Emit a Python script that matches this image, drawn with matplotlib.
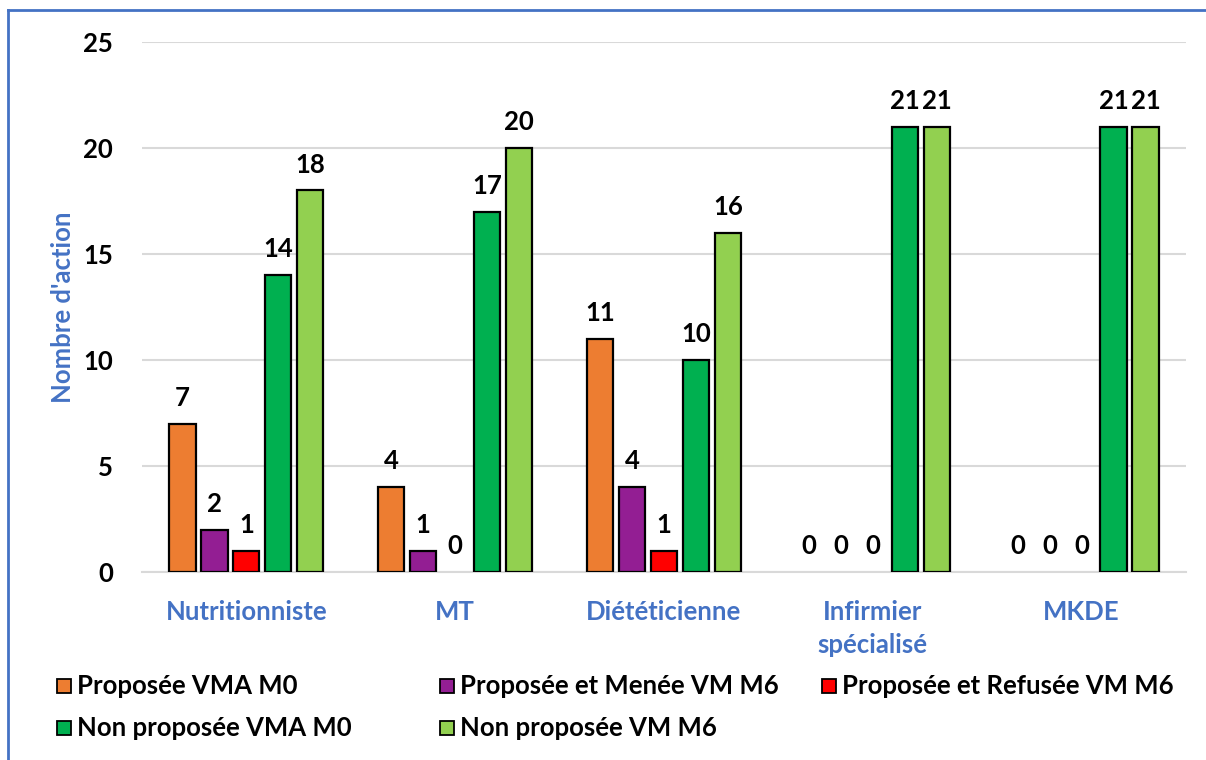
import numpy as np
import matplotlib.pyplot as plt
from matplotlib.patches import Rectangle
from matplotlib.lines import Line2D

plt.rcParams['font.family'] = ['Lato', 'DejaVu Sans']
plt.rcParams['font.weight'] = 'bold'

categories = ['Nutritionniste', 'MT', 'Diététicienne', 'Infirmier\nspécialisé', 'MKDE']
series = ['Proposée VMA M0', 'Proposée et Menée VM M6', 'Proposée et Refusée VM M6',
          'Non proposée VMA M0', 'Non proposée VM M6']
proposee_m0 = [7, 4, 11, 0, 0]
menee_m6 = [2, 1, 4, 0, 0]
refusee_m6 = [1, 0, 1, 0, 0]
non_prop_m0 = [14, 17, 10, 21, 21]
non_prop_m6 = [18, 20, 16, 21, 21]
colors = ['#ED7D31', '#931E93', '#FF0000', '#00B050', '#92D050']

values = [proposee_m0, menee_m6, refusee_m6, non_prop_m0, non_prop_m6]

fig = plt.figure(figsize=(12.06, 7.6), dpi=100)
ax = fig.add_axes([142/1206, 1-572/760, 1044/1206, 530/760])

x = np.arange(len(categories))
step = 0.153
width = 0.125
fs = 18.5
for i, (vals, c) in enumerate(zip(values, colors)):
    pos = x + (i - 2) * step
    lws = [1.6 if v > 0 else 0 for v in vals]
    ax.bar(pos, vals, width=width, color=c, edgecolor='black', linewidth=lws, zorder=3)
    for p, v in zip(pos, vals):
        ax.text(p, v + 0.65, str(v), ha='center', va='bottom', fontsize=fs,
                fontweight='bold', color='black')

ax.set_xlim(-0.5, len(categories) - 0.5)
ax.set_ylim(0, 25)
ax.set_yticks([0, 5, 10, 15, 20, 25])
ax.yaxis.grid(True, color='#D9D9D9', linewidth=1.5, zorder=0)
ax.set_axisbelow(True)
for s in ['top', 'right', 'left']:
    ax.spines[s].set_visible(False)
ax.spines['bottom'].set_color('#D9D9D9')
ax.spines['bottom'].set_linewidth(1.5)
ax.tick_params(axis='y', length=0, pad=21, labelsize=fs)
ax.tick_params(axis='x', length=0, pad=20, labelsize=fs, labelcolor='#4472C4')
ax.set_xticks(x)
ax.set_xticklabels(categories, fontweight='bold', linespacing=1.45)
for lbl in ax.get_yticklabels():
    lbl.set_fontweight('bold')
ax.set_ylabel("Nombre d'action", fontsize=fs, fontweight='bold', color='#4472C4', labelpad=6)

# legend, two rows
leg_x = [57, 440, 822]
leg_y = [686, 728]
for k, idx in enumerate(range(len(series))):
    r, cidx = divmod(k, 3)
    px, py = leg_x[cidx], leg_y[r]
    fig.patches.append(Rectangle((px / 1206, 1 - (py + 7) / 760), 14 / 1206, 14 / 760,
                                 transform=fig.transFigure, facecolor=colors[idx],
                                 edgecolor='black', linewidth=1.3))
    fig.text((px + 20) / 1206, 1 - py / 760, series[idx], ha='left', va='center',
             fontsize=fs, fontweight='bold', color='black')

# chart frame (left and top edges)
fig.lines.append(Line2D([8 / 1206, 8 / 1206], [0, 1 - 10 / 760], transform=fig.transFigure,
                        color='#4472C4', linewidth=2))
fig.lines.append(Line2D([8 / 1206, 1], [1 - 10 / 760, 1 - 10 / 760], transform=fig.transFigure,
                        color='#4472C4', linewidth=2))

fig.savefig('out.png', dpi=100)
